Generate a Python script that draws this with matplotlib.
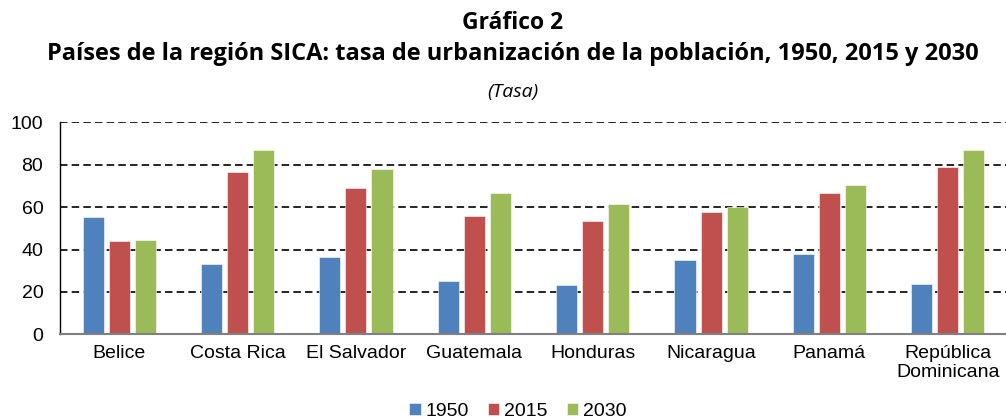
import matplotlib
matplotlib.use("Agg")
import matplotlib.pyplot as plt
import numpy as np

# ── Data: urbanization rate (%) by country, 1950 / 2015 / 2030 ──
countries = ["Belice", "Costa Rica", "El Salvador", "Guatemala", "Honduras",
             "Nicaragua", "Panamá", "República\nDominicana"]
years = ["1950", "2015", "2030"]
v1950 = [55.2, 33.3, 36.5, 25.0, 23.3, 34.9, 38.0, 23.6]
v2015 = [43.9, 76.6, 68.9, 55.8, 53.4, 57.5, 66.5, 78.8]
v2030 = [44.5, 86.8, 78.0, 66.8, 61.6, 60.0, 70.3, 86.9]
yticks = [0, 20, 40, 60, 80, 100]

colors = ["#4F81BD", "#C0504D", "#9BBB59"]

fig = plt.figure(figsize=(10.06, 4.19), dpi=100)
ax = fig.add_axes([60 / 1006, 0.2021, 947 / 1006, 0.506])

x = np.arange(len(countries))
width = 0.178
step = 0.22
for i, (vals, yr) in enumerate(zip([v1950, v2015, v2030], years)):
    ax.bar(x + (i - 1) * step, vals, width, color=colors[i], label=yr,
           edgecolor="white", linewidth=0.4, zorder=3)

ax.set_xlim(-0.5, len(countries) - 0.5)
ax.set_ylim(0, 100)
ax.set_yticks(yticks)
ax.set_xticks(x)
ax.set_xticklabels(countries, linespacing=1.1)

ax.yaxis.grid(True, color="black", linestyle=(0, (4.5, 2.5)), linewidth=1.2, zorder=0)
ax.set_axisbelow(True)

for s in ["top", "right"]:
    ax.spines[s].set_visible(False)
ax.spines["left"].set_color("black")
ax.spines["left"].set_linewidth(1.0)
ax.spines["bottom"].set_color("#808080")
ax.spines["bottom"].set_linewidth(1.5)
ax.spines["bottom"].set_zorder(4)

ax.tick_params(axis="both", length=0, labelsize=14, colors="black")
ax.tick_params(axis="y", pad=12)
ax.tick_params(axis="x", pad=8)
for lbl in ax.get_xticklabels() + ax.get_yticklabels():
    lbl.set_fontfamily("Liberation Sans")

# ── Titles ──
fig.text(0.51, 0.945, "Gráfico 2", ha="center", va="center",
         fontsize=16.5, fontweight="bold", family="Open Sans")
fig.text(0.51, 0.870,
         "Países de la región SICA: tasa de urbanización de la población, 1950, 2015 y 2030",
         ha="center", va="center", fontsize=17, fontweight="bold", family="Open Sans")
fig.text(0.51, 0.780, "(Tasa)", ha="center", va="center",
         fontsize=14, style="italic", family="Open Sans")

# ── Legend ──
fig.legend(loc="center", bbox_to_anchor=(518 / 1006, 1 - 411 / 419), ncol=3,
           frameon=False, prop={"family": "Liberation Sans", "size": 14},
           handlelength=0.57, handleheight=0.57, handletextpad=0.25,
           columnspacing=1.0, borderpad=0)

fig.savefig("out.png", dpi=100)
